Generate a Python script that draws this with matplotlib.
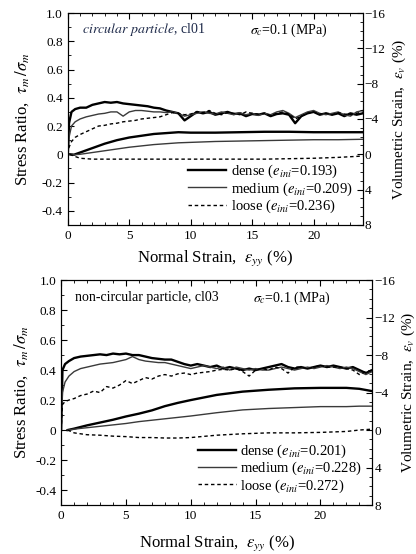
import matplotlib
matplotlib.use("Agg")
import matplotlib.pyplot as plt
from matplotlib.ticker import MultipleLocator, FuncFormatter

plt.rcParams["font.family"] = ["Liberation Serif", "DejaVu Serif"]
plt.rcParams["mathtext.fontset"] = "stix"

# normal strain grid for stress ratio curves (%)
x_sr = [0, 0.1, 0.3, 0.6, 1, 1.5, 2, 2.5, 3, 3.5, 4, 4.5, 5, 5.5, 6, 6.5, 7, 7.5, 8,
        8.5, 9, 9.5, 10, 10.5, 11, 11.5, 12, 12.5, 13, 13.5, 14, 14.5, 15, 15.5, 16,
        16.5, 17, 17.5, 18, 18.5, 19, 19.5, 20, 20.5, 21, 21.5, 22, 22.5, 23, 23.5, 24]

# circular particle, cl01 : stress ratio
c_dense_sr = [0, 0.22, 0.30, 0.32, 0.33, 0.33, 0.35, 0.36, 0.37, 0.365, 0.37, 0.36, 0.355,
              0.35, 0.345, 0.34, 0.33, 0.325, 0.31, 0.30, 0.29, 0.24, 0.27, 0.30, 0.29, 0.30,
              0.28, 0.29, 0.30, 0.285, 0.29, 0.27, 0.285, 0.28, 0.29, 0.27, 0.285, 0.29, 0.28,
              0.22, 0.27, 0.29, 0.30, 0.28, 0.29, 0.28, 0.29, 0.27, 0.29, 0.28, 0.29]
c_medium_sr = [0, 0.12, 0.20, 0.23, 0.25, 0.265, 0.275, 0.285, 0.29, 0.30, 0.30, 0.27, 0.30,
               0.31, 0.31, 0.305, 0.30, 0.30, 0.295, 0.30, 0.29, 0.27, 0.28, 0.29, 0.30, 0.29,
               0.285, 0.30, 0.29, 0.28, 0.295, 0.28, 0.29, 0.275, 0.29, 0.28, 0.30, 0.31, 0.29,
               0.26, 0.28, 0.30, 0.31, 0.29, 0.28, 0.29, 0.30, 0.28, 0.27, 0.30, 0.31]
c_loose_sr = [0, 0.05, 0.09, 0.12, 0.14, 0.16, 0.18, 0.20, 0.205, 0.215, 0.22, 0.23, 0.235,
              0.24, 0.25, 0.255, 0.26, 0.265, 0.28, 0.295, 0.29, 0.28, 0.285, 0.30, 0.295, 0.31,
              0.29, 0.28, 0.295, 0.29, 0.28, 0.30, 0.29, 0.285, 0.29, 0.275, 0.29, 0.30, 0.285,
              0.25, 0.27, 0.29, 0.30, 0.285, 0.29, 0.28, 0.295, 0.285, 0.28, 0.29, 0.30]

# circular particle, cl01 : volumetric strain (%)
c_x_vol = [0.15, 0.5, 1, 2, 3, 4, 5, 6, 7, 8, 9, 10, 12, 14, 16, 18, 20, 22, 24]
c_dense_vol = [0, 0.05, -0.2, -0.7, -1.2, -1.6, -1.9, -2.1, -2.3, -2.4, -2.5, -2.45, -2.45,
               -2.5, -2.55, -2.55, -2.5, -2.5, -2.5]
c_medium_vol = [0, 0.05, 0.0, -0.2, -0.4, -0.6, -0.8, -0.95, -1.1, -1.2, -1.3, -1.35, -1.45,
                -1.5, -1.55, -1.6, -1.65, -1.65, -1.7]
c_loose_vol = [0, 0.2, 0.45, 0.55, 0.55, 0.55, 0.55, 0.55, 0.55, 0.55, 0.55, 0.55, 0.55,
               0.55, 0.55, 0.5, 0.45, 0.35, 0.2]

# non-circular particle, cl03 : stress ratio
n_dense_sr = [0, 0.40, 0.44, 0.46, 0.48, 0.49, 0.495, 0.50, 0.505, 0.50, 0.51, 0.505, 0.51,
              0.50, 0.50, 0.49, 0.48, 0.475, 0.47, 0.47, 0.455, 0.44, 0.43, 0.44, 0.43, 0.42,
              0.43, 0.41, 0.42, 0.41, 0.40, 0.41, 0.40, 0.41, 0.42, 0.43, 0.44, 0.42, 0.41,
              0.42, 0.41, 0.42, 0.43, 0.42, 0.43, 0.42, 0.41, 0.42, 0.40, 0.38, 0.40]
n_medium_sr = [0, 0.25, 0.32, 0.36, 0.39, 0.41, 0.42, 0.43, 0.44, 0.445, 0.45, 0.46, 0.47,
               0.49, 0.47, 0.46, 0.455, 0.45, 0.45, 0.44, 0.43, 0.42, 0.41, 0.42, 0.43, 0.42,
               0.41, 0.42, 0.40, 0.42, 0.41, 0.40, 0.41, 0.40, 0.40, 0.41, 0.42, 0.41, 0.40,
               0.41, 0.42, 0.41, 0.42, 0.43, 0.42, 0.41, 0.42, 0.41, 0.39, 0.37, 0.39]
n_loose_sr = [0, 0.17, 0.19, 0.20, 0.21, 0.23, 0.24, 0.26, 0.25, 0.29, 0.28, 0.30, 0.33,
              0.31, 0.33, 0.35, 0.34, 0.36, 0.37, 0.36, 0.375, 0.38, 0.37, 0.38, 0.385, 0.39,
              0.40, 0.405, 0.40, 0.41, 0.39, 0.36, 0.40, 0.41, 0.40, 0.42, 0.41, 0.38, 0.42,
              0.42, 0.41, 0.42, 0.43, 0.42, 0.42, 0.42, 0.41, 0.40, 0.37, 0.39, 0.40]

# non-circular particle, cl03 : volumetric strain (%)
n_x_vol = [0.5, 1, 2, 3, 4, 5, 6, 7, 8, 9, 10, 12, 14, 16, 18, 20, 22, 23, 24]
n_dense_vol = [0, -0.15, -0.5, -0.8, -1.1, -1.45, -1.75, -2.1, -2.55, -2.9, -3.2, -3.75,
               -4.1, -4.3, -4.45, -4.5, -4.5, -4.4, -4.15]
n_medium_vol = [0, -0.1, -0.25, -0.4, -0.55, -0.7, -0.9, -1.05, -1.2, -1.35, -1.5, -1.85,
                -2.15, -2.3, -2.4, -2.5, -2.5, -2.55, -2.55]
n_loose_vol = [0, 0.3, 0.5, 0.55, 0.65, 0.7, 0.8, 0.8, 0.85, 0.85, 0.8, 0.55, 0.4, 0.3, 0.3,
               0.25, 0.15, 0.0, -0.1]

legend_c = ["dense ($e_{ini}$=0.193)", "medium ($e_{ini}$=0.209)", "loose ($e_{ini}$=0.236)"]
legend_n = ["dense ($e_{ini}$=0.201)", "medium ($e_{ini}$=0.228)", "loose ($e_{ini}$=0.272)"]

STYLES = [dict(color="black", lw=1.7, ls="-"),
          dict(color="#3a3a3a", lw=1.0, ls="-"),
          dict(color="black", lw=1.0, ls=(0, (2.5, 2)))]


def fmt_left(v, pos):
    if abs(v) < 1e-9:
        return "0"
    return f"{v:.1f}"


def draw_panel(rect, sr, xvol, vol, labels, title, title_it, ylab_x, ylab2_x, xlab_y):
    ax = fig.add_axes(rect)
    handles = []
    for y, st in zip(sr, STYLES):
        h, = ax.plot(x_sr, y, **st)
        handles.append(h)
    ax.set_xlim(0, 24)
    ax.set_ylim(-0.5, 1.0)
    ax.xaxis.set_major_locator(MultipleLocator(5))
    ax.xaxis.set_minor_locator(MultipleLocator(1))
    ax.yaxis.set_major_locator(MultipleLocator(0.2))
    ax.yaxis.set_minor_locator(MultipleLocator(0.1))
    ax.yaxis.set_major_formatter(FuncFormatter(fmt_left))
    ax.tick_params(which="both", direction="in", top=True, right=False, labelsize=9.5)
    ax.tick_params(which="major", length=4)
    ax.tick_params(which="minor", length=2)
    ax.set_xlabel(r"Normal Strain,  $\varepsilon_{yy}$ (%)", fontsize=12, va="center")
    ax.xaxis.set_label_coords(0.5, xlab_y)
    ax.set_ylabel(r"Stress Ratio,  $\tau_m\,/\sigma_m$", fontsize=12, va="center")
    ax.yaxis.set_label_coords(ylab_x, 0.5)

    ax2 = ax.twinx()
    for y, st in zip(vol, STYLES):
        ax2.plot(xvol, y, **st)
    ax2.set_ylim(8, -16)
    ax2.yaxis.set_major_locator(MultipleLocator(4))
    ax2.yaxis.set_minor_locator(MultipleLocator(1))
    ax2.tick_params(which="both", direction="in", labelsize=9.5, pad=1.5)
    ax2.tick_params(which="major", length=4)
    ax2.tick_params(which="minor", length=2)
    ax2.set_ylabel(r"Volumetric Strain,  $\varepsilon_v$ (%)", fontsize=11, va="center")
    ax2.yaxis.set_label_coords(ylab2_x, 0.5)

    ax.legend(handles, labels, loc="lower right", bbox_to_anchor=(0.985, 0.02),
              frameon=False, fontsize=10.5, handlelength=2.6, handletextpad=0.3,
              labelspacing=0.0, borderaxespad=0.0)
    if title_it:
        ax.text(0.047, 0.92, r"$\mathit{circular\ particle}$, " + title, transform=ax.transAxes,
                fontsize=10, va="center", color="#1c2848")
    else:
        ax.text(0.045, 0.924, "non-circular particle, " + title, transform=ax.transAxes,
                fontsize=10, va="center")
    ax.text(0.617, 0.92, r"$\sigma_c$=0.1 (MPa)", transform=ax.transAxes,
            fontsize=10, va="center")
    return ax


fig = plt.figure(figsize=(4.16, 5.54), dpi=100)

draw_panel([0.163, 0.594, 0.709, 0.3825],
           [c_dense_sr, c_medium_sr, c_loose_sr], c_x_vol,
           [c_dense_vol, c_medium_vol, c_loose_vol], legend_c, "cl01", True,
           -0.156, 1.125, -0.156)
draw_panel([0.147, 0.0884, 0.748, 0.406],
           [n_dense_sr, n_medium_sr, n_loose_sr], n_x_vol,
           [n_dense_vol, n_medium_vol, n_loose_vol], legend_n, "cl03", False,
           -0.13, 1.115, -0.169)

fig.savefig("out.png", dpi=100)
